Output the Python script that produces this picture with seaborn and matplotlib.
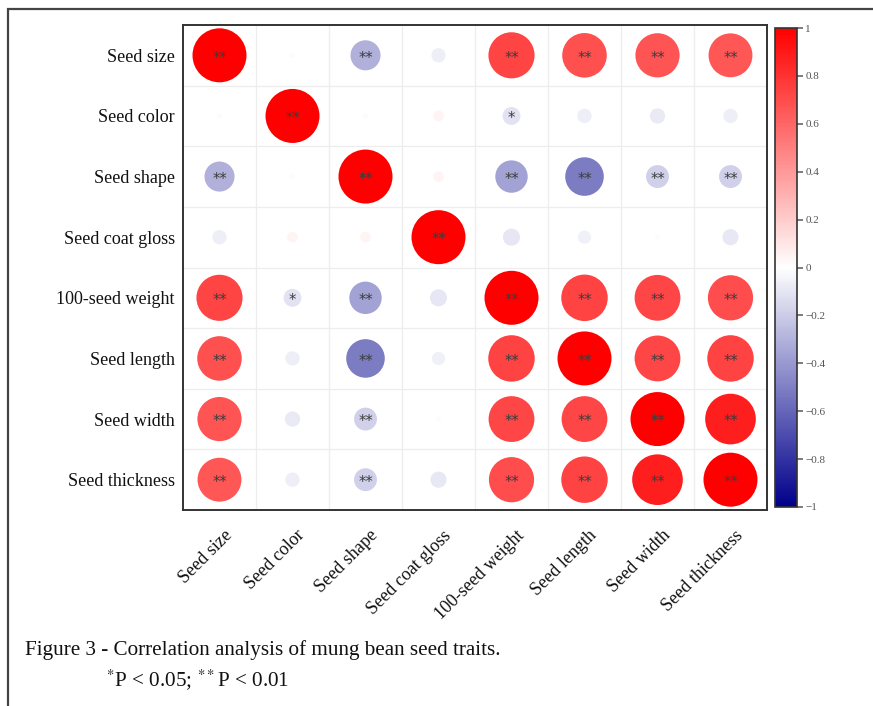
import numpy as np
import pandas as pd
import matplotlib
matplotlib.use("Agg")
import matplotlib.pyplot as plt
import matplotlib.transforms as mtransforms
from matplotlib.colors import LinearSegmentedColormap, Normalize
from matplotlib.cm import ScalarMappable
from matplotlib.patches import Rectangle
import seaborn as sns

traits = ["Seed size", "Seed color", "Seed shape", "Seed coat gloss",
          "100-seed weight", "Seed length", "Seed width", "Seed thickness"]

# Pearson correlation coefficients (rows/columns follow `traits`)
r_seed_size      = [1.00, -0.01, -0.31, -0.07, 0.73, 0.68, 0.67, 0.66]
r_seed_color     = [-0.01, 1.00, -0.01, 0.04, -0.11, -0.07, -0.08, -0.07]
r_seed_shape     = [-0.31, -0.01, 1.00, 0.04, -0.36, -0.51, -0.18, -0.18]
r_seed_gloss     = [-0.07, 0.04, 0.04, 1.00, -0.10, -0.06, -0.01, -0.09]
r_seed_weight    = [0.73, -0.11, -0.36, -0.10, 1.00, 0.74, 0.72, 0.70]
r_seed_length    = [0.68, -0.07, -0.51, -0.06, 0.74, 1.00, 0.72, 0.74]
r_seed_width     = [0.67, -0.08, -0.18, -0.01, 0.72, 0.72, 1.00, 0.88]
r_seed_thickness = [0.66, -0.07, -0.18, -0.09, 0.70, 0.74, 0.88, 1.00]

# Significance marks: * P < 0.05, ** P < 0.01
sig_seed_size      = ["**", "", "**", "", "**", "**", "**", "**"]
sig_seed_color     = ["", "**", "", "", "*", "", "", ""]
sig_seed_shape     = ["**", "", "**", "", "**", "**", "**", "**"]
sig_seed_gloss     = ["", "", "", "**", "", "", "", ""]
sig_seed_weight    = ["**", "*", "**", "", "**", "**", "**", "**"]
sig_seed_length    = ["**", "", "**", "", "**", "**", "**", "**"]
sig_seed_width     = ["**", "", "**", "", "**", "**", "**", "**"]
sig_seed_thickness = ["**", "", "**", "", "**", "**", "**", "**"]

cbar_ticks = [-1, -0.8, -0.6, -0.4, -0.2, 0, 0.2, 0.4, 0.6, 0.8, 1]

r_rows = [r_seed_size, r_seed_color, r_seed_shape, r_seed_gloss,
          r_seed_weight, r_seed_length, r_seed_width, r_seed_thickness]
sig_rows = [sig_seed_size, sig_seed_color, sig_seed_shape, sig_seed_gloss,
            sig_seed_weight, sig_seed_length, sig_seed_width, sig_seed_thickness]

records = []
for i, row_trait in enumerate(traits):
    for j, col_trait in enumerate(traits):
        records.append({"row": row_trait, "col": col_trait,
                        "r": r_rows[i][j], "absr": abs(r_rows[i][j]),
                        "sig": sig_rows[i][j]})
df = pd.DataFrame(records)

sns.set_theme(style="white")
plt.rcParams["font.family"] = ["Liberation Serif", "DejaVu Serif"]
plt.rcParams["mathtext.fontset"] = "stix"

cmap = LinearSegmentedColormap.from_list("blue_white_red",
                                         ["#00008B", "#FFFFFF", "#FF0000"])
norm = Normalize(-1, 1)

W, H = 873, 706
fig = plt.figure(figsize=(W / 100, H / 100), dpi=100)
ax = fig.add_axes([183 / W, 1 - 510 / H, (767 - 183) / W, (510 - 25) / H])

sns.scatterplot(data=df, x="col", y="row", hue="r", size="absr",
                palette=cmap, hue_norm=(-1, 1),
                sizes=(0, 1512), size_norm=(0, 1),
                linewidth=0, legend=False, ax=ax, zorder=3)

ax.set_xlim(-0.5, len(traits) - 0.5)
ax.set_ylim(len(traits) - 0.5, -0.5)
for k in range(len(traits) - 1):
    ax.axhline(k + 0.5, color="#ededed", lw=0.9, zorder=1)
    ax.axvline(k + 0.5, color="#ededed", lw=0.9, zorder=1)

# significance stars at cell centres
star_shift = mtransforms.ScaledTranslation(0, -2.0 / 72, fig.dpi_scale_trans)
for _, rec in df.iterrows():
    if rec["sig"]:
        ax.text(traits.index(rec["col"]), traits.index(rec["row"]), rec["sig"],
                ha="center", va="center", fontsize=10.5, color="#3c3c3c",
                family="DejaVu Sans", zorder=4,
                transform=ax.transData + star_shift)

ax.set_xlabel("")
ax.set_ylabel("")
ax.set_xticks(range(len(traits)))
ax.set_yticks(range(len(traits)))
ax.set_yticklabels(traits, fontsize=13, color="#111111")
ax.set_xticklabels([])
ax.tick_params(axis="both", length=0, pad=6)

# rotated column labels, anchored just below-right of each column centre
col_label_trans = (mtransforms.blended_transform_factory(ax.transData, ax.transAxes)
                   + mtransforms.ScaledTranslation(10 / 100, -23 / 100,
                                                   fig.dpi_scale_trans))
for i, name in enumerate(traits):
    ax.text(i, 0, name, fontsize=13, color="#111111", rotation=45,
            ha="right", va="center", rotation_mode="anchor",
            transform=col_label_trans, clip_on=False)

for sp in ax.spines.values():
    sp.set_visible(True)
    sp.set_color("#333333")
    sp.set_linewidth(1.4)

# colour bar
cax = fig.add_axes([775 / W, 1 - 507 / H, 22 / W, (507 - 28) / H])
cb = fig.colorbar(ScalarMappable(norm=norm, cmap=cmap), cax=cax, ticks=cbar_ticks)
cb.ax.set_yticklabels([f"{t:g}".replace("-", "\u2212") for t in cbar_ticks],
                      fontsize=8, color="#555555")
cb.ax.tick_params(length=4, width=1.2, color="#666666", pad=2)
cb.outline.set_edgecolor("#333333")
cb.outline.set_linewidth(1.2)

# caption
fig.text(25 / W, 1 - 655 / H,
         "Figure 3 - Correlation analysis of mung bean seed traits.",
         fontsize=15.2, ha="left", va="baseline", color="#111111")
fig.text(106 / W, 1 - 686 / H, r"$^{*}$P < 0.05; $^{**}$P < 0.01",
         fontsize=15.2, ha="left", va="baseline", color="#111111")

# frame around the figure panel
fig.add_artist(Rectangle((8 / W, -0.05), 1.2, 1 - 9 / H + 0.05,
                         transform=fig.transFigure, fill=False,
                         edgecolor="#444444", linewidth=1.6))

fig.savefig("out.png", dpi=100)
